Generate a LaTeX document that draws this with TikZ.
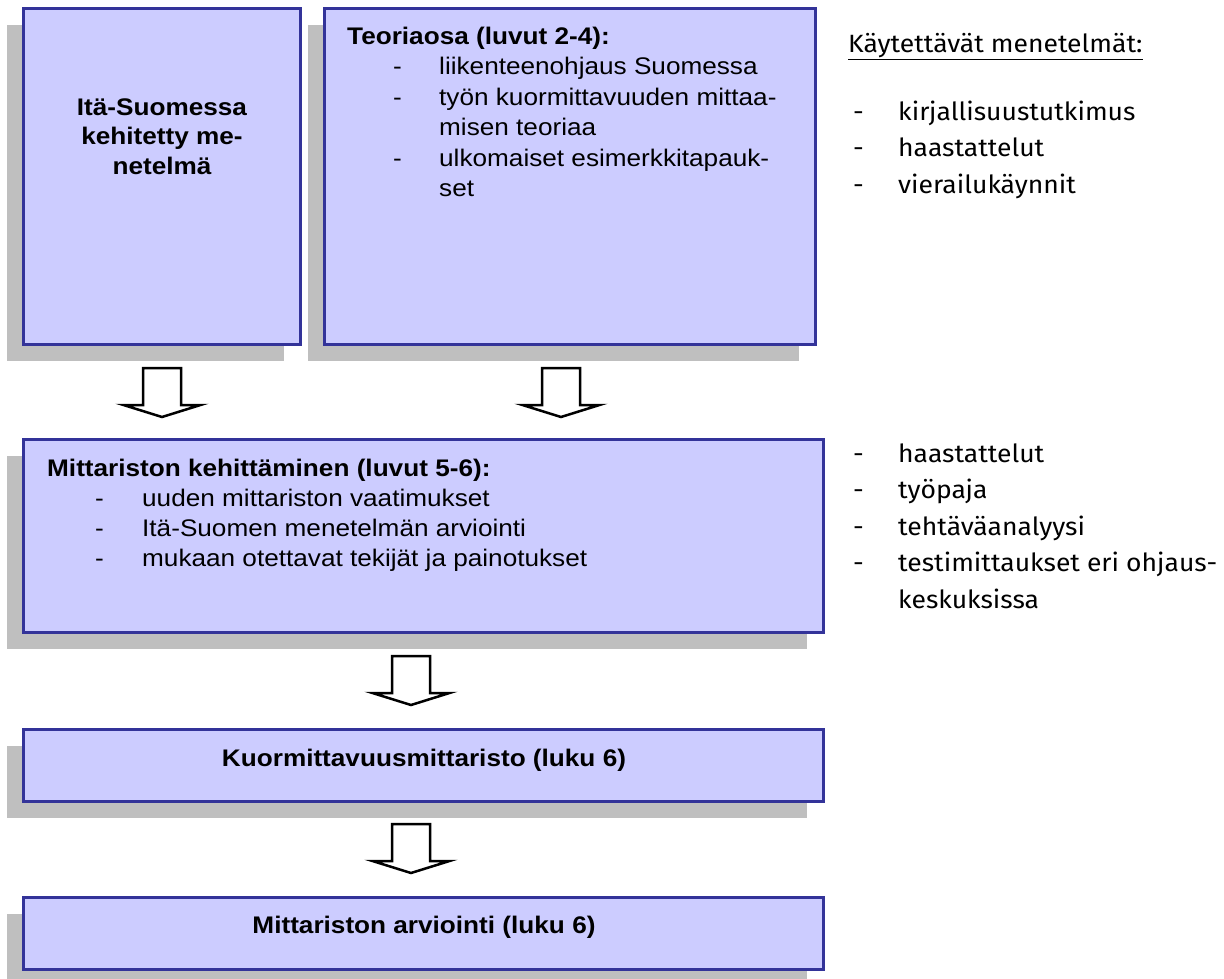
\documentclass[tikz,border=0pt]{standalone}
\usepackage{fontspec}
\setmainfont{Liberation Sans}[FakeStretch=1.09]
\newfontfamily\sidefont{Fira Sans}[FakeStretch=1.06]
\usetikzlibrary{shadows}
\definecolor{boxfill}{HTML}{CCCCFF}
\definecolor{boxline}{HTML}{333399}
\definecolor{shade}{HTML}{BFBFBF}

\tikzset{
  box/.style={draw=boxline, fill=boxfill, line width=3pt, anchor=north west,
    inner sep=0pt, outer sep=0pt,
    drop shadow={shadow xshift=-16pt, shadow yshift=-17pt, fill=shade, opacity=1}},
  txt/.style={anchor=base west, inner sep=0pt, font=\fontsize{24}{30}\selectfont},
  btxt/.style={txt, font=\fontsize{24}{30}\selectfont\bfseries},
  side/.style={anchor=base west, inner sep=0pt, font=\fontsize{25}{36}\selectfont\sidefont},
  blockarrow/.pic={
    \draw[line width=2.5pt, fill=white, line join=miter]
      (-19,0) -- (19,0) -- (19,37) -- (38.5,37) -- (0,49) -- (-38.5,37) -- (-19,37) -- cycle;
  }
}

\begin{document}
\begin{tikzpicture}[x=1pt, y=-1pt]
\useasboundingbox (0,0) rectangle (1224,978);

% boxes
\node[box, minimum width=277pt, minimum height=336pt] (b1) at (23,8) {};
\node[box, minimum width=491pt, minimum height=336pt] (b2) at (324,8) {};
\node[box, minimum width=800pt, minimum height=193pt] (b3) at (23,439) {};
\node[box, minimum width=800pt, minimum height=72pt] (b4) at (23,729) {};
\node[box, minimum width=800pt, minimum height=72pt] (b5) at (23,897) {};

% left box: centred bold title
\foreach \t [count=\i] in {Itä-Suomessa, kehitetty me-, netelmä}
  \node[btxt, anchor=base] (b1l\i) at (162,{85.5+29.5*\i}) {\t};

% theory box
\node[btxt] (b2t) at (347,44) {Teoriaosa (luvut 2-4):};
\foreach \d/\t [count=\i] in {-/liikenteenohjaus Suomessa,
                              -/työn kuormittavuuden mittaa-,
                              /misen teoriaa,
                              -/ulkomaiset esimerkkitapauk-,
                              /set} {
  \node[txt] (b2d\i) at (393,{44+30.5*\i}) {\d};
  \node[txt] (b2l\i) at (439,{44+30.5*\i}) {\t};
}

% development box
\node[btxt] (b3t) at (47,476) {Mittariston kehittäminen (luvut 5-6):};
\foreach \t [count=\i] in {uuden mittariston vaatimukset,
                           Itä-Suomen menetelmän arviointi,
                           mukaan otettavat tekijät ja painotukset} {
  \node[txt] (b3d\i) at (95,{476+30*\i}) {-};
  \node[txt] (b3l\i) at (142,{476+30*\i}) {\t};
}

% result boxes
\node[btxt, anchor=base] (b4t) at (424,766) {Kuormittavuusmittaristo (luku 6)};
\node[btxt, anchor=base] (b5t) at (424,933) {Mittariston arviointi (luku 6)};

% block arrows
\pic at (162,368) {blockarrow};
\pic at (561,368) {blockarrow};
\pic at (411,656) {blockarrow};
\pic at (411,824) {blockarrow};

% methods column
\node[side] (mt) at (848,52) {\underline{Käytettävät menetelmät:}};
\foreach \t [count=\i] in {kirjallisuustutkimus, haastattelut, vierailukäynnit} {
  \node[side] (m1d\i) at (853,{83.5+36.5*\i}) {-};
  \node[side] (m1l\i) at (898,{83.5+36.5*\i}) {\t};
}
\foreach \d/\t [count=\i] in {-/haastattelut, -/työpaja, -/tehtäväanalyysi,
                              -/testimittaukset eri ohjaus-, /keskuksissa} {
  \node[side] (m2d\i) at (853,{425.5+36.5*\i}) {\d};
  \node[side] (m2l\i) at (898,{425.5+36.5*\i}) {\t};
}
\end{tikzpicture}
\end{document}
